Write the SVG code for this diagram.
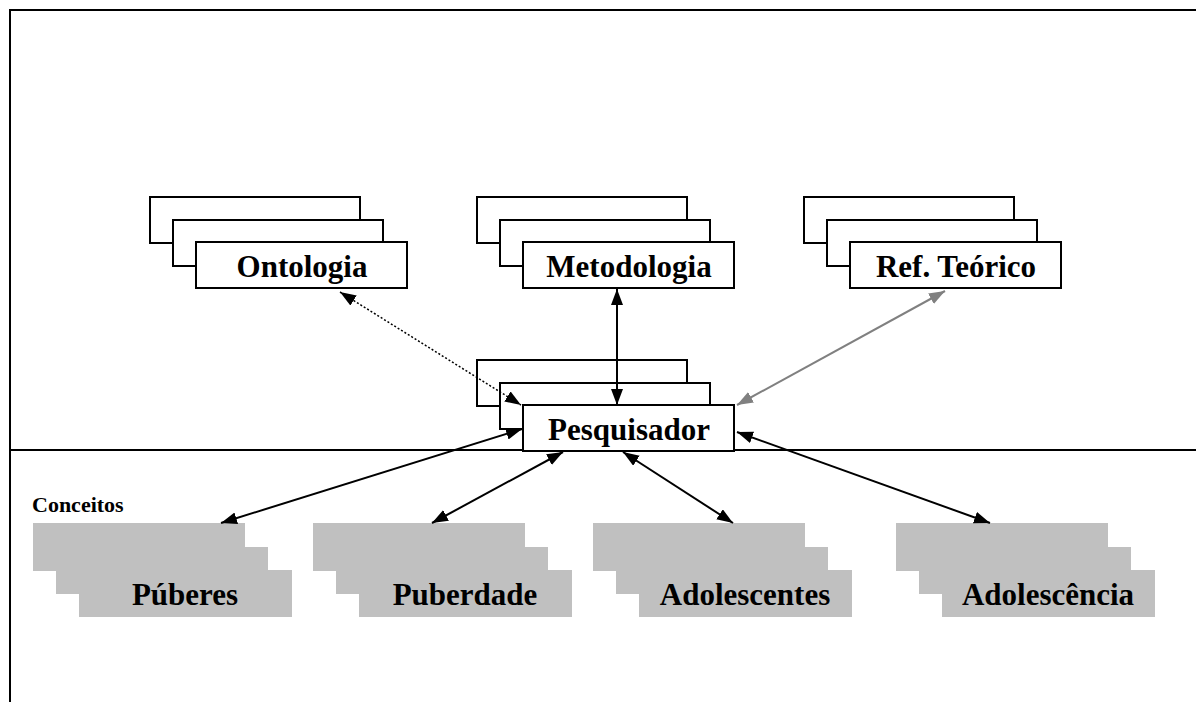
<svg xmlns="http://www.w3.org/2000/svg" width="1196" height="702" viewBox="0 0 1196 702">
  <defs>
    <style>
      .frame { fill: none; stroke: #000; stroke-width: 2; }
      .card { fill: #fff; stroke: #000; stroke-width: 2; }
      .block { fill: #c0c0c0; }
      .label { font-family: "Liberation Serif", "Times New Roman", serif; font-weight: bold; font-size: 31px; fill: #000; text-anchor: middle; }
      .small { font-family: "Liberation Serif", "Times New Roman", serif; font-weight: bold; font-size: 22px; fill: #000; }
      .link { fill: none; stroke: #000; stroke-width: 2; marker-start: url(#head); marker-end: url(#head); }
      .dotted { stroke-width: 1.5; stroke-dasharray: 2 2; }
      .grey { stroke: #808080; marker-start: url(#headGrey); marker-end: url(#headGrey); }
    </style>
    <marker id="head" markerUnits="userSpaceOnUse" markerWidth="18" markerHeight="14" refX="16" refY="6" orient="auto-start-reverse">
      <path d="M0,0 L16,6 L0,12 Z" fill="#000"/>
    </marker>
    <marker id="headGrey" markerUnits="userSpaceOnUse" markerWidth="18" markerHeight="14" refX="16" refY="6" orient="auto-start-reverse">
      <path d="M0,0 L16,6 L0,12 Z" fill="#808080"/>
    </marker>
    <!-- stacked white card: three outlined boxes offset diagonally -->
    <g id="stack">
      <rect class="card" x="0" y="0" width="210" height="46"/>
      <rect class="card" x="23" y="23" width="210" height="46"/>
      <rect class="card" x="46" y="45" width="211" height="46"/>
    </g>
    <!-- stacked grey concept block -->
    <g id="greyStack">
      <rect class="block" x="0" y="0" width="212" height="48"/>
      <rect class="block" x="23" y="24" width="212" height="47"/>
      <rect class="block" x="46" y="47" width="213" height="47"/>
    </g>
  </defs>

  <rect width="1196" height="702" fill="#fff"/>

  <!-- page frame and divider -->
  <g id="frame">
    <polyline class="frame" points="10,702 10,10 1196,10"/>
    <line class="frame" x1="10" y1="450" x2="1196" y2="450"/>
  </g>

  <g id="ontologia">
    <use href="#stack" x="150" y="197"/>
    <text class="label" x="302" y="277">Ontologia</text>
  </g>
  <g id="metodologia">
    <use href="#stack" x="477" y="197"/>
    <text class="label" x="629" y="277">Metodologia</text>
  </g>
  <g id="ref-teorico">
    <use href="#stack" x="804" y="197"/>
    <text class="label" x="956" y="277">Ref. Teórico</text>
  </g>
  <g id="pesquisador">
    <use href="#stack" x="477" y="360"/>
    <text class="label" x="629" y="440">Pesquisador</text>
  </g>

  <g id="conceitos">
    <text class="small" x="32" y="512">Conceitos</text>
  </g>
  <g id="puberes">
    <use href="#greyStack" x="33" y="523"/>
    <text class="label" x="185" y="605">Púberes</text>
  </g>
  <g id="puberdade">
    <use href="#greyStack" x="313" y="523"/>
    <text class="label" x="465" y="605">Puberdade</text>
  </g>
  <g id="adolescentes">
    <use href="#greyStack" x="593" y="523"/>
    <text class="label" x="745" y="605">Adolescentes</text>
  </g>
  <g id="adolescencia">
    <use href="#greyStack" x="896" y="523"/>
    <text class="label" x="1048" y="605">Adolescência</text>
  </g>

  <g id="connectors">
    <line class="link dotted" x1="340" y1="292" x2="521" y2="405"/>
    <line class="link" x1="617" y1="289" x2="617" y2="405"/>
    <line class="link grey" x1="945" y1="291" x2="737" y2="405"/>
    <line class="link" x1="522" y1="429" x2="221" y2="523"/>
    <line class="link" x1="563" y1="452" x2="432" y2="523"/>
    <line class="link" x1="623" y1="452" x2="733" y2="523"/>
    <line class="link" x1="737" y1="432" x2="990" y2="523"/>
  </g>
</svg>
